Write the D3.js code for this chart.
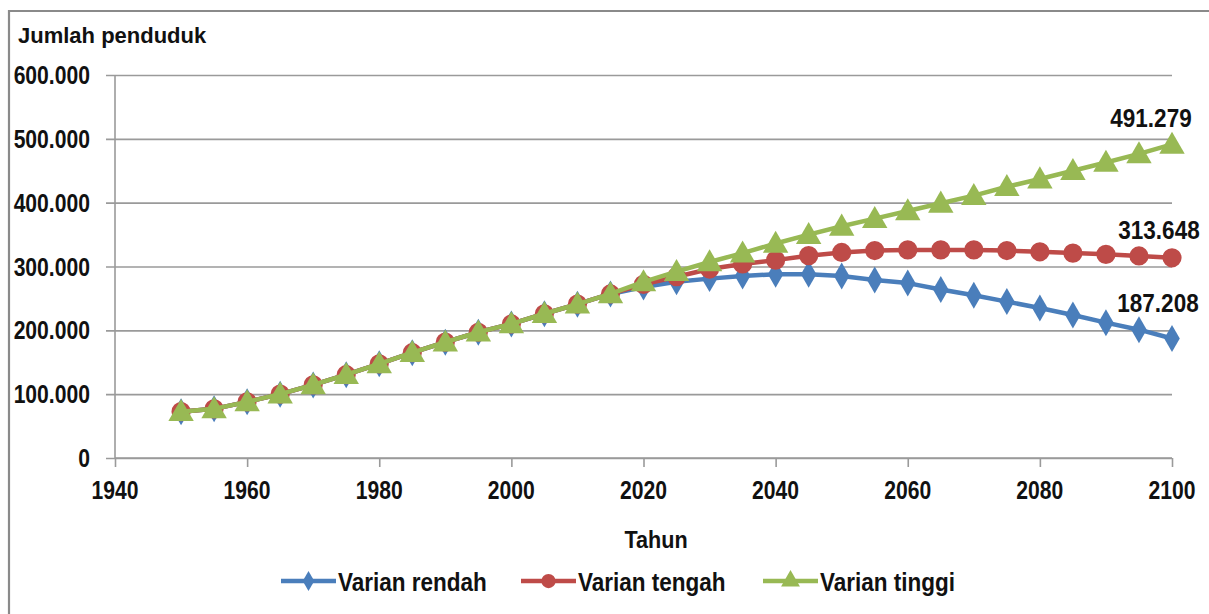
<!DOCTYPE html>
<html>
<head>
<meta charset="utf-8">
<script src="https://cdn.jsdelivr.net/npm/d3@7/dist/d3.min.js"></script>
<style>
  html, body { margin: 0; padding: 0; background: #fff; }
  svg { display: block; }
  text { font-family: "Liberation Sans", Arial, sans-serif; font-weight: bold; fill: #111; }
</style>
</head>
<body>
<svg id="chart" width="1209" height="614"></svg>
<script>
// ---- Data (thousands of people) ----
const years = [1950,1955,1960,1965,1970,1975,1980,1985,1990,1995,2000,2005,2010,2015,
               2020,2025,2030,2035,2040,2045,2050,2055,2060,2065,2070,2075,2080,2085,2090,2095,2100];
const historic = [72600,77000,88000,100000,114500,130500,147500,165000,181500,197000,210000,226000,241000,257000];
const rendahProj = [268000,276000,281000,285000,288000,288000,285000,279000,274000,264000,255000,245000,235000,224000,212000,201000,187208];
const tengahProj = [272000,284000,296000,304000,310000,317000,322000,325000,326000,326000,326000,325000,323000,321000,319000,316500,313648];
const tinggiProj = [276000,292000,307000,321000,336000,350000,363000,375000,387000,399000,411000,425000,437000,450000,463000,476500,491279];
const rendah = historic.concat(rendahProj);
const tengah = historic.concat(tengahProj);
const tinggi = historic.concat(tinggiProj);
const seriesNames = ["Varian rendah", "Varian tengah", "Varian tinggi"];
const yTicks = [0,100000,200000,300000,400000,500000,600000];
const xTicks = [1940,1960,1980,2000,2020,2040,2060,2080,2100];
const yTitle = "Jumlah penduduk";
const xTitle = "Tahun";

// ---- Styles ----
const colors = ["#4A7EBB", "#BE4B48", "#98B954"];
const shapes = [d3.symbolDiamond, d3.symbolCircle, d3.symbolTriangle];
const markerSize = [210, 290, 280];

const svg = d3.select("#chart");
const W = 1209, H = 614;
const x = d3.scaleLinear().domain([1940, 2100]).range([115, 1172]);
const y = d3.scaleLinear().domain([0, 600000]).range([458, 75]);
const loc = d3.formatLocale({decimal: ",", thousands: ".", grouping: [3], currency: ["", ""]});
const fmt = loc.format(",.0f");

// outer frame (left + top)
svg.append("path")
  .attr("d", `M9,${H} L9,11 L${W},11`)
  .attr("fill", "none").attr("stroke", "#8a8a8a").attr("stroke-width", 2.2);

// gridlines
const yAxis = d3.axisLeft(y).tickValues(yTicks).tickSize(1172 - 106).tickFormat("");
const gy = svg.append("g").attr("transform", "translate(1172,0)").call(yAxis);
gy.select(".domain").remove();
gy.selectAll(".tick line").attr("stroke", "#9a9a9a").attr("stroke-width", 1.6);

// vertical axis line
svg.append("line").attr("x1", 115).attr("x2", 115).attr("y1", y(600000)).attr("y2", y(0))
  .attr("stroke", "#9a9a9a").attr("stroke-width", 1.6);

// y tick labels
svg.append("g").selectAll("text").data(yTicks).join("text")
  .attr("class", "cond").attr("data-k", 0.845)
  .attr("x", 90).attr("y", d => y(d)).attr("dy", "0.36em")
  .attr("text-anchor", "end").style("font-size", "25px")
  .text(d => fmt(d));

// x axis
const xAxis = d3.axisBottom(x).tickValues(xTicks).tickSize(9).tickFormat("");
const gx = svg.append("g").attr("transform", `translate(0,${y(0)})`).call(xAxis);
gx.select(".domain").attr("stroke", "#9a9a9a").attr("stroke-width", 1.6).attr("d", `M115,0H1172`);
gx.selectAll(".tick line").attr("stroke", "#9a9a9a").attr("stroke-width", 1.6);
svg.append("g").selectAll("text").data(xTicks).join("text")
  .attr("class", "cond").attr("data-k", 0.845)
  .attr("x", d => x(d)).attr("y", 499)
  .attr("text-anchor", "middle").style("font-size", "25px")
  .text(d => d);

// titles
svg.append("text").attr("x", 18).attr("y", 43).style("font-size", "22px").text(yTitle);
svg.append("text").attr("class", "cond").attr("data-k", 0.9).attr("x", 656).attr("y", 548)
  .attr("text-anchor", "middle").style("font-size", "24px").text(xTitle);

// series
const allSeries = [rendah, tengah, tinggi];
const line = d3.line().x((d, i) => x(years[i])).y(d => y(d));
allSeries.forEach((vals, s) => {
  const g = svg.append("g");
  g.append("path").datum(vals).attr("d", line)
    .attr("fill", "none").attr("stroke", colors[s]).attr("stroke-width", 4.5)
    .attr("stroke-linejoin", "round");
  g.selectAll("path.m").data(vals).join("path").attr("class", "m")
    .attr("transform", (d, i) => `translate(${x(years[i])},${y(d) + (s === 2 ? 2 : 0)})`)
    .attr("d", d3.symbol().type(shapes[s]).size(markerSize[s]))
    .attr("fill", colors[s]);
});

// end labels
const labelOffsets = [[-14, -26], [-13, -19], [-21, -17]];
allSeries.forEach((vals, s) => {
  const v = vals[vals.length - 1];
  svg.append("text").attr("class", "cond").attr("data-k", 0.9)
    .attr("x", x(2100) + labelOffsets[s][0]).attr("y", y(v) + labelOffsets[s][1])
    .attr("text-anchor", "middle").style("font-size", "25px")
    .text(fmt(v));
});

// legend
const legX = [281, 521, 763];
const legY = 581;
seriesNames.forEach((name, s) => {
  const g = svg.append("g").attr("transform", `translate(${legX[s]},${legY})`);
  g.append("line").attr("x1", 0).attr("x2", 55).attr("y1", 0).attr("y2", 0)
    .attr("stroke", colors[s]).attr("stroke-width", 4.5);
  g.append("path").attr("transform", "translate(27.5,0)")
    .attr("d", d3.symbol().type(shapes[s]).size(markerSize[s] * 0.55)).attr("fill", colors[s]);
  g.append("text").attr("class", "cond").attr("data-k", 0.9).attr("x", 57).attr("y", 10)
    .style("font-size", "25px").text(name);
});

// condense text horizontally (narrow-looking font of the original)
svg.selectAll("text.cond").each(function() {
  const k = +this.getAttribute("data-k");
  const w = this.getComputedTextLength();
  d3.select(this).attr("textLength", w * k).attr("lengthAdjust", "spacingAndGlyphs");
});
</script>
</body>
</html>
